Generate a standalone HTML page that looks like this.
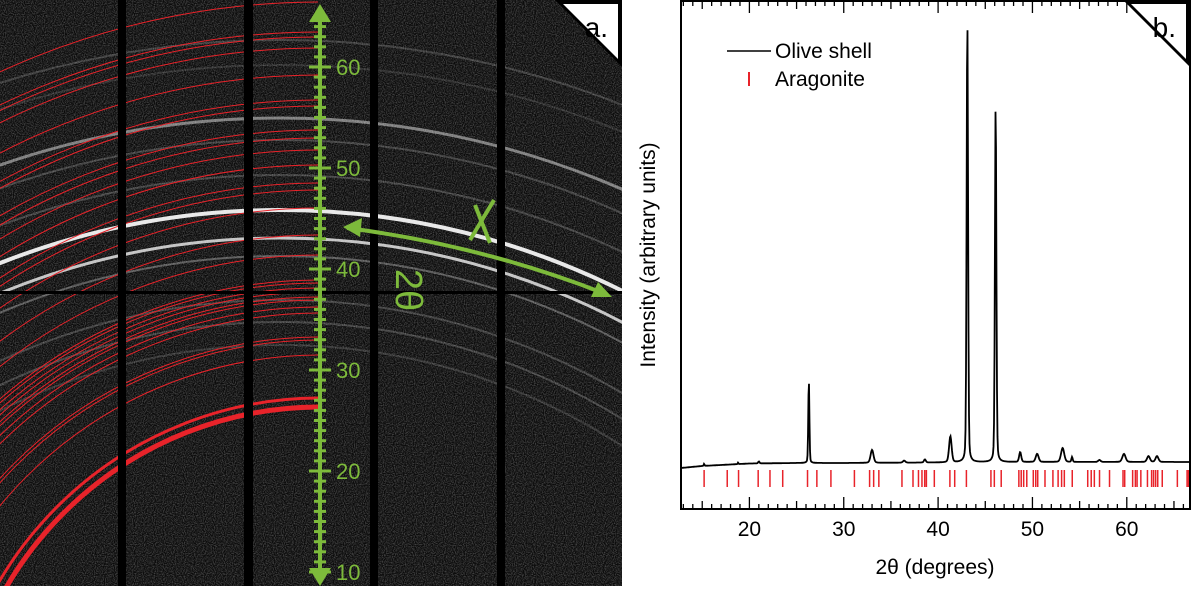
<!DOCTYPE html>
<html><head><meta charset="utf-8">
<style>
html,body{margin:0;padding:0;background:#fff;width:1200px;height:601px;overflow:hidden;font-family:"Liberation Sans",Arial,sans-serif}
svg{position:absolute;left:0;top:0;display:block}
</style></head>
<body>
<svg width="1200" height="601" viewBox="0 0 1200 601">
<defs>
<filter id="noise" x="0" y="0" width="100%" height="100%">
<feTurbulence type="fractalNoise" baseFrequency="0.9" numOctaves="1" seed="3" result="t"/>
<feColorMatrix type="matrix" values="0 0 0 0 1  0 0 0 0 1  0 0 0 0 1  1.6 0 0 0 -0.6" />
</filter>
<clipPath id="leftclip"><rect x="0" y="0" width="622" height="586"/></clipPath>
<clipPath id="redclip"><rect x="0" y="0" width="318" height="586"/></clipPath>
<clipPath id="plotclip"><rect x="681" y="0" width="509" height="509"/></clipPath>
</defs>

<g id="panel-a" clip-path="url(#leftclip)">
<rect x="0" y="0" width="622" height="586" fill="#0b0b0b"/>
<rect x="0" y="0" width="622" height="586" filter="url(#noise)" opacity="0.4"/>
<g id="white-arcs"></g>
<g id="red-arcs" clip-path="url(#redclip)"></g>
<g fill="#000">
<rect x="118" y="0" width="8" height="586"/>
<rect x="244" y="0" width="9" height="586"/>
<rect x="370" y="0" width="8" height="586"/>
<rect x="497" y="0" width="8" height="586"/>
<rect x="0" y="291" width="622" height="3"/>
</g>
<g id="green-axis"></g>
<path d="M347,228 Q480,245 603,293" stroke="#7dba3b" stroke-width="4" fill="none"/>
<polygon points="343,227 362,218 360,237" fill="#7dba3b"/>
<polygon points="612,297 591,297 598,282" fill="#7dba3b"/>
<line x1="470" y1="240" x2="494" y2="200" stroke="#7dba3b" stroke-width="4"/>
<line x1="475" y1="205" x2="490" y2="243" stroke="#7dba3b" stroke-width="4"/>
<text x="0" y="0" transform="translate(396,290) rotate(90)" font-size="38" fill="#7dba3b" text-anchor="middle">2θ</text>
<polygon points="555,0 622,0 622,67" fill="#000"/>
<polygon points="563,4 618,4 618,59" fill="#fff"/>
<text x="608" y="37" font-size="28" text-anchor="end" fill="#000">a.</text>
</g>

<g id="panel-b">
<g id="xticks"></g>
<g id="refticks" clip-path="url(#plotclip)"></g>
<path id="curve" d="" stroke="#000" stroke-width="1.8" fill="none" clip-path="url(#plotclip)"/>
<rect x="681" y="1" width="509" height="508" fill="none" stroke="#000" stroke-width="2"/>
<text x="935" y="574" font-size="21" text-anchor="middle">2θ (degrees)</text>
<text x="0" y="0" transform="translate(655,255) rotate(-90)" font-size="21" text-anchor="middle">Intensity (arbitrary units)</text>
<g>
<line x1="727" y1="51" x2="771" y2="51" stroke="#000" stroke-width="1.6"/>
<text x="775" y="58" font-size="21">Olive shell</text>
<line x1="749" y1="72" x2="749" y2="86" stroke="#e8232a" stroke-width="2"/>
<text x="775" y="86" font-size="21">Aragonite</text>
</g>
<polygon points="1123,0 1190,0 1190,67" fill="#000"/>
<polygon points="1131,4 1186,4 1186,59" fill="#fff"/>
<text x="1176" y="37" font-size="28" text-anchor="end">b.</text>
</g>
</svg>
<script>
const xTickLabels = [20, 30, 40, 50, 60];
const bgAngles = [12.75, 15, 20, 25, 30, 40, 50, 60, 66.7];
const bgLevels = [0.45, 0.9, 1.45, 1.56, 1.56, 1.67, 1.79, 1.79, 1.79];
const peakAngles = [15.2, 18.8, 21.0, 26.3, 33.0, 36.4, 38.6, 41.3, 43.1, 46.1, 48.7, 50.5, 53.2, 54.2, 57.1, 59.7, 62.3, 63.2];
const peakHeights = [0.45, 0.35, 0.45, 18.5, 2.9, 0.45, 0.7, 5.8, 99, 80, 2.2, 1.8, 3.1, 1.1, 0.45, 1.8, 1.3, 1.3];
const peakWidths = [0.05, 0.05, 0.08, 0.07, 0.18, 0.15, 0.12, 0.16, 0.09, 0.09, 0.13, 0.18, 0.2, 0.08, 0.15, 0.2, 0.18, 0.18];
const aragonite = [15.20,17.65,18.85,20.93,22.18,23.53,26.16,27.15,28.64,31.13,32.74,33.17,33.72,36.17,37.34,37.92,38.29,38.58,38.76,39.60,41.25,41.76,43.0,45.6,45.96,46.69,48.56,48.81,49.07,49.40,50.09,50.35,50.56,51.33,52.17,52.72,53.09,53.38,54.22,55.86,56.23,56.56,57.11,58.17,59.60,59.78,60.62,60.91,61.09,61.49,62.19,62.63,62.84,63.06,63.28,63.76,65.36,66.39,66.53];
const scaleLabels = [10, 20, 30, 40, 50, 60];
const redRingY = [2,32,37,48,75,100,106,130,138,150,165,183,190,208,235,255,280,283,288,292,297,300,307,313,337,340,355,398,407];
const redRingW = [1,1,1,1,1,1,1,1,1,1,1,1,1,1,1,1,1,1,1,1,1,1,1,1,1,1,1,3,5];
const whiteRingY = [40,65,118,140,175,210,238,256,300,322,345];
const whiteRingA = [0.18,0.12,0.45,0.2,0.2,0.9,0.75,0.3,0.2,0.2,0.15];
const whiteRingW = [2,2,3,2,2,4,3,2,2,2,2];

const NS = 'http://www.w3.org/2000/svg';
const X0 = 681, X1 = 1190, D0 = 12.75, D1 = 66.7;
const xs = d => X0 + (d - D0) * (X1 - X0) / (D1 - D0);
const YF = 470, K = 4.48;
const ys = v => YF - v * K;
function mk(tag, attrs, parent) { const e = document.createElementNS(NS, tag); for (const k in attrs) e.setAttribute(k, attrs[k]); parent.appendChild(e); return e; }

function bgAt(d) {
  for (let i = 0; i < bgAngles.length - 1; i++) {
    if (d <= bgAngles[i + 1]) { const t = (d - bgAngles[i]) / (bgAngles[i + 1] - bgAngles[i]); return bgLevels[i] + t * (bgLevels[i + 1] - bgLevels[i]); }
  }
  return bgLevels[bgLevels.length - 1];
}
let dstr = '';
for (let px = X0; px <= X1; px += 0.5) {
  const d = D0 + (px - X0) * (D1 - D0) / (X1 - X0);
  let v = bgAt(d);
  for (let i = 0; i < peakAngles.length; i++) {
    const q = (d - peakAngles[i]) / peakWidths[i];
    v += peakHeights[i] * (0.25 / (1 + q * q) + 0.75 * Math.exp(-0.693 * q * q));
  }
  dstr += (dstr ? 'L' : 'M') + px.toFixed(1) + ',' + ys(v).toFixed(1);
}
document.getElementById('curve').setAttribute('d', dstr);

const rt = document.getElementById('refticks');
aragonite.forEach(a => {
  const l = mk('line', { x1: xs(a), x2: xs(a), y1: 470, y2: 487, stroke: '#e8232a', 'stroke-width': 1.5 }, rt);
  
  
});

const xt = document.getElementById('xticks');
for (let d = 13; d <= 66; d++) {
  const major = d % 10 === 0, mid = d % 5 === 0;
  const len = major ? 12 : (mid ? 8 : 5);
  mk('line', { x1: xs(d), x2: xs(d), y1: 509, y2: 509 - len, stroke: '#000', 'stroke-width': 1.3 }, xt);
  mk('line', { x1: xs(d), x2: xs(d), y1: 1, y2: 1 + len, stroke: '#000', 'stroke-width': 1.3 }, xt);
}
xTickLabels.forEach(v => {
  const t = mk('text', { x: xs(v), y: 536, 'font-size': 21, 'text-anchor': 'middle' }, xt);
  t.textContent = v;
  
  
});

const wa = document.getElementById('white-arcs');
const WCX = 280, WCY = 975;
whiteRingY.forEach((y, i) => {
  const c = mk('circle', { cx: WCX, cy: WCY, r: WCY - y, fill: 'none', stroke: '#fff', 'stroke-opacity': whiteRingA[i], 'stroke-width': whiteRingW[i] }, wa);
  
  
});
const CX = 320, CY = 770;
const ra = document.getElementById('red-arcs');
redRingY.forEach((y, i) => {
  const c = mk('circle', { cx: CX, cy: CY, r: CY - y, fill: 'none', stroke: '#e8232a', 'stroke-width': redRingW[i] }, ra);
  
  
});

const ga = document.getElementById('green-axis');
const sy = v => 572 - (v - 10) * 10.1;
const G = '#7dba3b';
mk('line', { x1: 320, x2: 320, y1: 18, y2: 572, stroke: G, 'stroke-width': 4 }, ga);
mk('polygon', { points: '320,4 309,22 331,22', fill: G }, ga);
mk('polygon', { points: '320,586 309,568 331,568', fill: G }, ga);
for (let v = 10; v <= 65; v++) {
  const w = v % 10 === 0 ? 11 : 6;
  mk('line', { x1: 320 - w, x2: 320 + w, y1: sy(v), y2: sy(v), stroke: G, 'stroke-width': 3 }, ga);
}
scaleLabels.forEach(v => {
  const t = mk('text', { x: 336, y: sy(v) + 8, 'font-size': 22, fill: G }, ga);
  t.textContent = v;
  
  
});
</script>
</body></html>
